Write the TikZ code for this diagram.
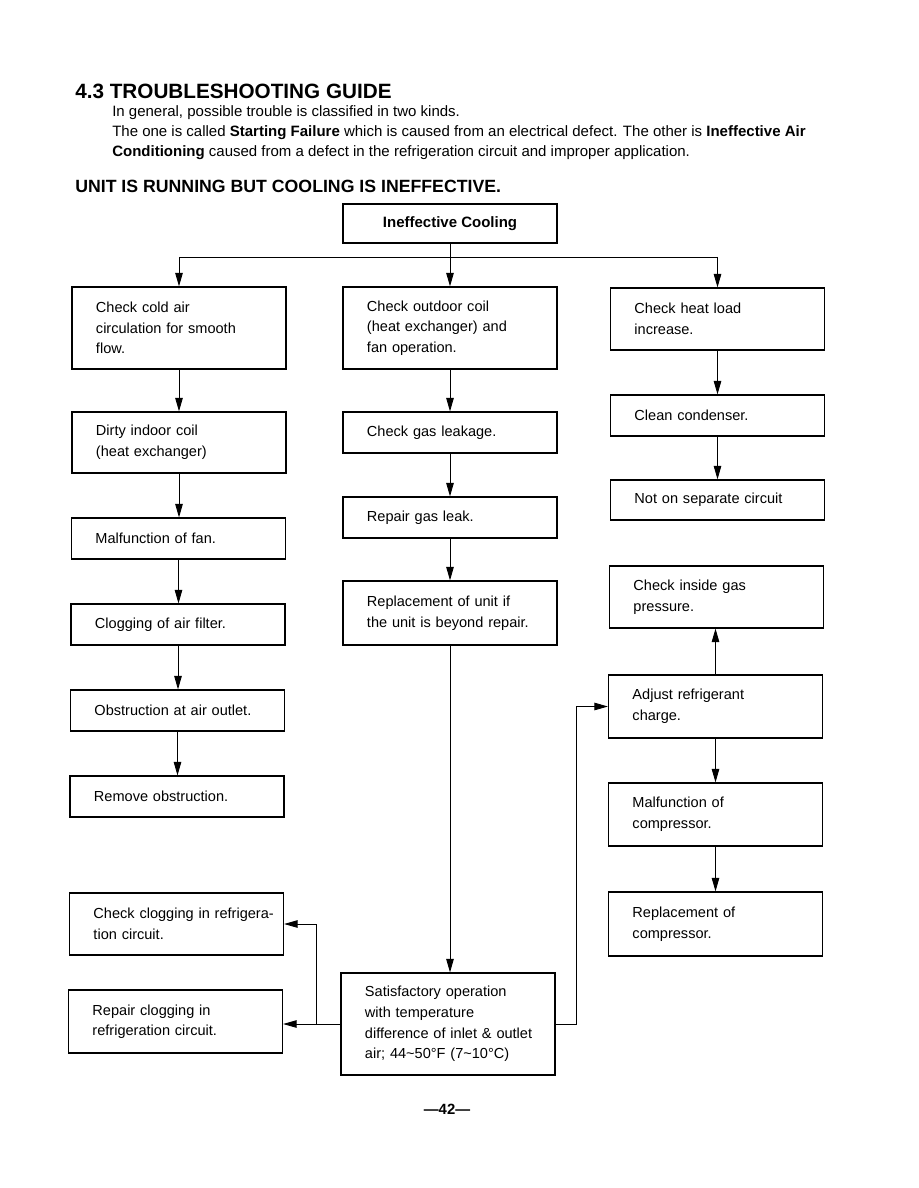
\documentclass[tikz,border=0pt]{standalone}
\usepackage{fontspec}
\setmainfont{Liberation Sans}
\usetikzlibrary{arrows.meta}

\begin{document}
\begin{tikzpicture}[
    x=0.6667pt, y=-0.6667pt,
    font=\fontsize{9.7}{13.7}\selectfont,
    heading/.style={anchor=west, inner xsep=0pt, font=\fontsize{13.8}{16}\selectfont\bfseries},
    subhead/.style={anchor=west, inner xsep=0pt, font=\fontsize{11.8}{14}\selectfont\bfseries},
    intro/.style={anchor=west, inner xsep=0pt, align=left, font=\fontsize{10}{13.3}\selectfont},
    head/.style={draw, line width=0.8pt, minimum width=142.7pt, minimum height=26pt, font=\fontsize{10}{12}\selectfont\bfseries},
    stepbox/.style={draw, line width=0.8pt, text width=142.7pt, inner xsep=0pt, inner ysep=0pt, align=left, execute at begin node={\leftskip=16pt}},
    arr/.style={-{Triangle[length=9pt, width=5pt]}, line width=0.6pt}
]
\useasboundingbox (0,0) rectangle (918,1188);

% Page heading and introduction.
\node[heading] (title) at (75,91) {4.3 TROUBLESHOOTING GUIDE};
\node[intro] (text) at (112,132.5) {In general, possible trouble is classified in two kinds.\\
    The one is called \textbf{Starting Failure} which is caused from an electrical defect. The other is \textbf{Ineffective Air}\\
    \textbf{Conditioning} caused from a defect in the refrigeration circuit and improper application.};
\node[subhead] (case) at (75,186) {UNIT IS RUNNING BUT COOLING IS INEFFECTIVE.};

% Starting box.
\node[head] (top) at (450,223.5) {Ineffective Cooling};

% Left column: air circulation.
\node[stepbox, minimum height=54.7pt] (cold) at (179,328) {Check cold air\\circulation for smooth\\flow.};
\node[stepbox, minimum height=40.7pt] (dirty) at (179,442.5) {Dirty indoor coil\\(heat exchanger)};
\node[stepbox, minimum height=27.3pt] (fan) at (178.5,538.5) {Malfunction of fan.};
\node[stepbox, minimum height=27.3pt] (filter) at (178,624.5) {Clogging of air filter.};
\node[stepbox, minimum height=27.3pt] (outlet) at (177.5,710.5) {Obstruction at air outlet.};
\node[stepbox, minimum height=27.3pt] (remove) at (177,796.5) {Remove obstruction.};
\node[stepbox, minimum height=41.3pt] (clogchk) at (176.5,924) {Check clogging in refrigera-\\tion circuit.};
\node[stepbox, minimum height=42pt] (clogfix) at (175.5,1021.5) {Repair clogging in\\refrigeration circuit.};

% Middle column: outdoor unit.
\node[stepbox, minimum height=54.7pt] (outdoor) at (450,328) {Check outdoor coil\\(heat exchanger) and\\fan operation.};
\node[stepbox, minimum height=27.3pt] (leak) at (450,432.5) {Check gas leakage.};
\node[stepbox, minimum height=27.3pt] (repair) at (450,517.5) {Repair gas leak.};
\node[stepbox, minimum height=42.7pt] (replace) at (450,613) {Replacement of unit if\\the unit is beyond repair.};
\node[stepbox, minimum height=68pt] (satis) at (448,1024) {Satisfactory operation\\with temperature\\difference of inlet \& outlet\\air; 44\textasciitilde50°F (7\textasciitilde10°C)};

% Right column: heat load and refrigerant.
\node[stepbox, minimum height=41.3pt] (heat) at (717.5,319) {Check heat load\\increase.};
\node[stepbox, minimum height=27.3pt] (cond) at (717.5,415.5) {Clean condenser.};
\node[stepbox, minimum height=26.7pt] (circuit) at (717.5,500) {Not on separate circuit};
\node[stepbox, minimum height=41.3pt] (gas) at (716.5,597) {Check inside gas\\pressure.};
\node[stepbox, minimum height=42pt] (charge) at (715.5,706.5) {Adjust refrigerant\\charge.};
\node[stepbox, minimum height=42pt] (comp) at (715.5,814.5) {Malfunction of\\compressor.};
\node[stepbox, minimum height=42.7pt] (compnew) at (715.5,924) {Replacement of\\compressor.};

% Page number.
\node[font=\fontsize{9.9}{12}\selectfont\bfseries] (page) at (447,1109) {—42—};

% Split from the starting box.
\coordinate (split) at (450,257);
\draw[line width=0.6pt] (cold.north |- split) -- (heat.north |- split);
\draw[arr] (top.south) -- (outdoor.north);
\draw[arr] (cold.north |- split) -- (cold.north);
\draw[arr] (heat.north |- split) -- (heat.north);

% Column chains.
\foreach \a/\b in {cold/dirty, dirty/fan, fan/filter, filter/outlet, outlet/remove,
    outdoor/leak, leak/repair, repair/replace, replace/satis,
    heat/cond, cond/circuit, charge/comp, comp/compnew}{
    \draw[arr] (\a.south) -- (\a.south |- \b.north);
}
\draw[arr] (charge.north) -- (charge.north |- gas.south);

% Returns from the satisfactory box.
\coordinate (rjog) at (576,1024);
\coordinate (ljog) at (316,1024);
\draw[arr] (satis.east) -- (rjog) |- (charge.west);
\draw[arr] (satis.west) -- (satis.west -| clogfix.east);
\draw[arr] (ljog) |- (clogchk.east);
\end{tikzpicture}
\end{document}
